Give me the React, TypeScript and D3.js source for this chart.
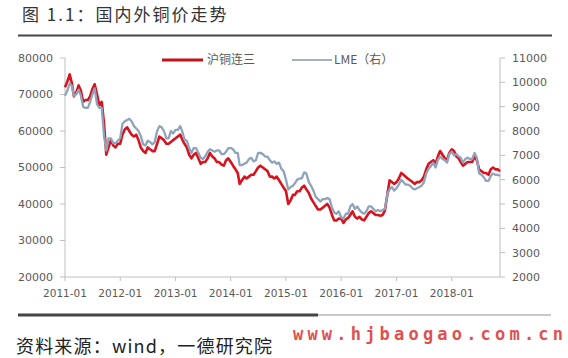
import React from "react";
import * as d3 from "d3";

const shfe: number[] = [
  72000, 73500, 75500, 73000, 69500, 70500, 72500, 71000, 68000, 68500, 68500, 69500,
  71500, 72800, 70000, 67000, 68000, 62000, 53500, 55500, 57500, 56000, 55500, 56500,
  56500, 59000, 60500, 61000, 60000, 59000, 58500, 59000, 57500, 55500, 54500, 54000,
  55500, 55000, 54500, 54500, 56500, 58500, 58000, 57500, 56500, 56500, 57000, 57500,
  58000, 58500, 59000, 57500, 56500, 55500, 53500, 52500, 53500, 54000, 52500, 51000,
  51500, 51500, 52500, 54000, 53000, 52500, 51500, 51500, 50800, 50500, 52000, 52500,
  51500, 50500, 49500, 48500, 45500, 46500, 47500, 47000, 47500, 48000, 48000, 49000,
  50000, 50500, 50000, 49500, 49000, 47500, 47500, 47000, 47500, 46500, 45500, 44500,
  43500, 40000, 41000, 42500, 42500, 43500, 43500, 44500, 45000, 44000, 43000, 41500,
  40500, 39500, 38500, 38500, 39000, 39500, 40000, 39000, 37000, 35500, 35500, 36000,
  36000, 34800, 35800, 36200, 37000, 38000, 36500, 36000, 36500, 35800, 35500, 36500,
  37500, 38000, 37500, 37000, 37000, 36800, 37000, 38200, 42500, 46500, 46000, 45500,
  46000, 47000, 48500, 48000, 47500, 47000, 46500, 46000, 45500, 46000, 46000, 46500,
  47500, 49500, 51000, 51500, 52000, 51000, 53000, 54500, 53500, 52500, 52000, 54000,
  55000, 54500, 53000, 52500, 51500, 50500, 51000, 51500, 51500, 51500, 53000, 52000,
  49500, 49000, 48500, 48500, 48000, 49500, 50000, 49500, 49500, 49000,
];

const lme: number[] = [
  9450, 9650, 9950, 9850, 9450, 9500, 9700, 9450, 9000, 8950, 8950, 9200,
  9500, 9750, 9100, 8950, 8950, 7800, 7200, 7700, 7700, 7500, 7500, 7600,
  7700, 8300, 8400, 8450, 8500, 8400, 8200, 8100, 8000, 7800, 7450, 7400,
  7600, 7550, 7450, 7550, 8000, 8200, 8150, 8000, 7700, 7700, 8000, 7900,
  8050, 8050, 8200, 7950, 7650, 7600, 7300, 7100, 7300, 7300, 7100, 6900,
  6850, 6950, 7150, 7250, 7200, 7150, 7200, 7200, 7050, 7050, 7150, 7300,
  7300, 7250, 7100, 7100, 6600, 6600, 6650, 6700, 6850, 6900, 6750, 6800,
  7100, 7100, 7050, 6950, 6950, 6800, 6700, 6750, 6650, 6700, 6450, 6350,
  6000, 5600, 5700, 5750, 5850, 6000, 6050, 6050, 6300, 6250, 5900, 5750,
  5550, 5300, 5200, 5100, 5200, 5200, 5250, 5200, 4850, 4650, 4600, 4700,
  4450, 4400, 4600, 4600, 4900, 5000, 4800, 4900, 4750, 4650, 4600, 4700,
  4900, 4900, 4800, 4700, 4750, 4700, 4750, 4800, 5400, 5600, 5700, 5550,
  5650, 5800, 6000, 5900, 5800, 5800, 5750, 5650, 5600, 5650, 5700, 5750,
  5900, 6250, 6450, 6550, 6700, 6500, 6800, 6950, 6850, 6800, 6700, 7050,
  7150, 7000, 7050, 6950, 6900, 6700, 6850, 6900, 6850, 6850, 7100, 6900,
  6250, 6200, 6100, 5950, 5950, 6150, 6250, 6200, 6200, 6150,
];

const leftTicks = [20000, 30000, 40000, 50000, 60000, 70000, 80000];
const rightTicks = [2000, 3000, 4000, 5000, 6000, 7000, 8000, 9000, 10000, 11000];
const yearTicks = ["2011-01", "2012-01", "2013-01", "2014-01", "2015-01", "2016-01", "2017-01", "2018-01"];
const seriesNames = ["沪铜连三", "LME（右）"];

const W = 568;
const H = 358;
const plot = { left: 65, right: 500, top: 58, bottom: 277 };

const dateOf = (i: number) => new Date(2011, Math.floor(i / 2), i % 2 ? 16 : 1);

export default function App() {
  const x = d3
    .scaleTime()
    .domain([new Date(2011, 0, 1), new Date(2018, 10, 16)])
    .range([plot.left, plot.right]);
  const yL = d3.scaleLinear().domain([20000, 80000]).range([plot.bottom, plot.top]);
  const yR = d3.scaleLinear().domain([2000, 11000]).range([plot.bottom, plot.top]);

  const lineL = d3
    .line<number>()
    .x((_, i) => x(dateOf(i)))
    .y((d) => yL(d));
  const lineR = d3
    .line<number>()
    .x((_, i) => x(dateOf(i)))
    .y((d) => yR(d));

  const tickFont = "DejaVu Sans, sans-serif";
  const axisColor = "#bfbfbf";
  const labelColor = "#595959";

  return (
    <svg width={W} height={H} style={{ position: "absolute", left: 0, top: 0, background: "#fff" }}>
      {/* title */}
      <text x={22} y={21} fontSize={17} letterSpacing={2} fill="#333" fontFamily="Noto Sans CJK SC, sans-serif">
        图 1.1：国内外铜价走势
      </text>
      <line x1={18} x2={552} y1={35.5} y2={35.5} stroke="#444" strokeWidth={2} />

      {/* axes */}
      <line x1={plot.left} x2={plot.left} y1={plot.top} y2={plot.bottom} stroke={axisColor} />
      <line x1={plot.right} x2={plot.right} y1={plot.top} y2={plot.bottom} stroke={axisColor} />
      <line x1={plot.left} x2={plot.right} y1={plot.bottom} y2={plot.bottom} stroke={axisColor} />

      {leftTicks.map((t) => (
        <g key={"l" + t}>
          <line x1={plot.left - 5} x2={plot.left} y1={yL(t)} y2={yL(t)} stroke={axisColor} />
          <text
            x={plot.left - 12}
            y={yL(t)}
            dy="0.35em"
            textAnchor="end"
            fontSize={11}
            fontFamily={tickFont}
            fill={labelColor}
          >
            {t}
          </text>
        </g>
      ))}
      {rightTicks.map((t) => (
        <g key={"r" + t}>
          <line x1={plot.right} x2={plot.right + 5} y1={yR(t)} y2={yR(t)} stroke={axisColor} />
          <text
            x={plot.right + 12}
            y={yR(t)}
            dy="0.35em"
            textAnchor="start"
            fontSize={11}
            fontFamily={tickFont}
            fill={labelColor}
          >
            {t}
          </text>
        </g>
      ))}
      {yearTicks.map((t) => {
        const d = d3.timeParse("%Y-%m")(t) as Date;
        const xx = x(d);
        return (
          <g key={t}>
            <line x1={xx} x2={xx} y1={plot.bottom} y2={plot.bottom + 4} stroke={axisColor} />
            <text
              x={xx}
              y={plot.bottom + 16}
              dy="0.35em"
              textAnchor="middle"
              fontSize={10.5}
              fontFamily={tickFont}
              fill={labelColor}
            >
              {t}
            </text>
          </g>
        );
      })}

      {/* series */}
      <path d={lineL(shfe) || ""} fill="none" stroke="#d7141e" strokeWidth={2.6} strokeLinejoin="round" />
      <path d={lineR(lme) || ""} fill="none" stroke="#8fa3bd" strokeWidth={2.3} strokeLinejoin="round" />

      {/* legend */}
      <line x1={162} x2={203} y1={60} y2={60} stroke="#c0141c" strokeWidth={3} />
      <text x={207} y={60} dy="0.35em" fontSize={12} fill={labelColor} fontFamily="Noto Sans CJK SC, sans-serif">
        {seriesNames[0]}
      </text>
      <line x1={292} x2={332} y1={60} y2={60} stroke="#8a96a8" strokeWidth={1.5} />
      <text x={334} y={60} dy="0.35em" fontSize={12} fill={labelColor} fontFamily="Noto Sans CJK SC, sans-serif">
        {seriesNames[1]}
      </text>

      {/* bottom rule */}
      <line x1={18} x2={318} y1={315} y2={315} stroke="#444" strokeWidth={3} />
      <line x1={318} x2={551} y1={315} y2={315} stroke="#c8c8c8" strokeWidth={2} />

      <text
        x={16}
        y={347}
        dy="0.35em"
        fontSize={18}
        fill="#222"
        textLength={256}
        lengthAdjust="spacing"
        fontFamily="Noto Sans CJK SC, sans-serif"
      >
        资料来源：wind，一德研究院
      </text>
      <text
        x={293}
        y={334}
        dy="0.35em"
        fontSize={17}
        fontWeight="bold"
        fill="#e05050"
        textLength={270}
        lengthAdjust="spacing"
        fontFamily="DejaVu Sans Mono, monospace"
      >
        www.hjbaogao.com.cn
      </text>
    </svg>
  );
}
